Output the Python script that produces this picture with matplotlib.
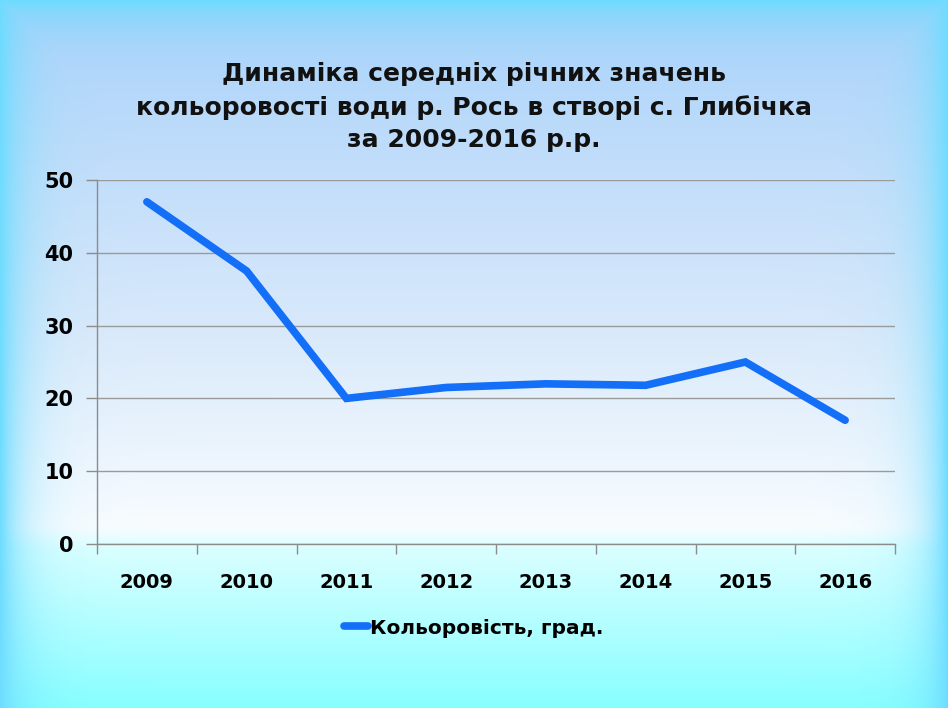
import numpy as np
import matplotlib
matplotlib.use("Agg")
from matplotlib import pyplot as plt

plt.rcParams["font.family"] = ["DejaVu Sans"]
plt.rcParams["font.weight"] = "bold"

years = ["2009", "2010", "2011", "2012", "2013", "2014", "2015", "2016"]
colour_values = [47.0, 37.5, 20.0, 21.5, 22.0, 21.8, 25.0, 17.0]
y_ticks = [0, 10, 20, 30, 40, 50]
title = "Динаміка середніх річних значень\nкольоровості води р. Рось в створі с. Глибічка\nза 2009-2016 р.р."
series_name = "Кольоровість, град."

W, H = 948, 708
fig = plt.figure(figsize=(W / 100, H / 100), dpi=100)

# slide background: vertical gradient + cyan glow at the edges
yy = np.linspace(0, 1, H)
stops = [0.0, 0.08, 0.45, 0.745, 0.775, 1.0]
cols = np.array([
    [165, 208, 250],
    [178, 214, 250],
    [215, 232, 250],
    [248, 252, 255],
    [218, 255, 255],
    [135, 255, 255],
]) / 255.0
base = np.stack([np.interp(yy, stops, cols[:, c]) for c in range(3)], axis=1)
img = np.repeat(base[:, None, :], W, axis=1)
px = np.arange(W)[None, :]
py = np.arange(H)[:, None]
d_side = np.minimum(px, W - 1 - px) * np.ones((H, 1))
d_top = py * np.ones((1, W))
w = np.maximum(np.exp(-d_side / 24.0), np.exp(-d_top / 22.0))
glow = np.array([110, 220, 255]) / 255.0
img = img * (1 - w[..., None]) + glow * w[..., None]
bg = fig.add_axes([0, 0, 1, 1], zorder=-1)
bg.imshow(img, aspect="auto", extent=[0, 1, 0, 1])
bg.axis("off")

ax = fig.add_axes([97 / W, 1 - 544 / H, (895 - 97) / W, (544 - 180) / H])
ax.patch.set_alpha(0)
x = np.arange(len(years))
ax.plot(x, colour_values, color="#136ef8", linewidth=5.5, solid_capstyle="round",
        solid_joinstyle="miter", label=series_name)
ax.set_xlim(-0.5, len(years) - 0.5)
ax.set_ylim(0, 50)
ax.set_yticks(y_ticks)
ax.set_xticks(x)
ax.set_xticklabels(years, fontsize=14, fontweight="bold")
ax.set_xticks(np.arange(len(years) + 1) - 0.5, minor=True)
ax.tick_params(axis="x", which="major", length=0, pad=21)
ax.tick_params(axis="x", which="minor", length=7, color="#8c8c8c", width=1, direction="out")
ax.tick_params(axis="y", length=8, color="#8c8c8c", width=1, pad=9, labelsize=15)
for lab in ax.get_yticklabels():
    lab.set_fontweight("bold")
ax.grid(axis="y", color="#9a9a9a", linewidth=1)
ax.set_axisbelow(True)
for s in ["top", "right"]:
    ax.spines[s].set_visible(False)
for s in ["left", "bottom"]:
    ax.spines[s].set_color("#8c8c8c")
    ax.spines[s].set_linewidth(1)

fig.text(0.5, 1 - 107 / H, title, ha="center", va="center", fontsize=18,
         fontweight="bold", linespacing=1.45, color="#111111")

leg = fig.legend(loc="center", bbox_to_anchor=(0.5, 1 - 628 / H), frameon=False,
                 prop={"size": 14.5, "weight": "bold"}, handlelength=1.2, handletextpad=0.1)

plt.savefig("out.png", dpi=100)
plt.close()
